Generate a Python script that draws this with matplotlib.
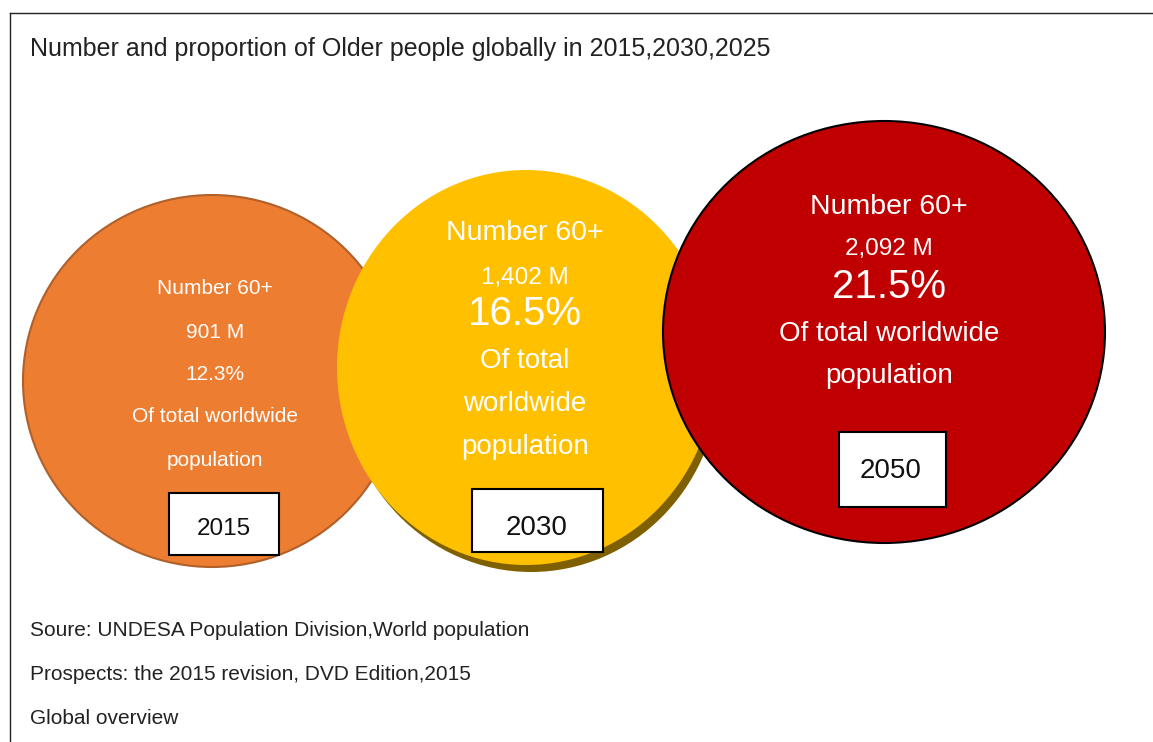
import matplotlib
matplotlib.use('Agg')
import matplotlib.pyplot as plt
from matplotlib.patches import Ellipse, Rectangle

plt.rcParams['font.family'] = ['Liberation Sans', 'DejaVu Sans']

# data
years = ['2015', '2030', '2050']
number_60 = ['901 M', '1,402 M', '2,092 M']
share = ['12.3%', '16.5%', '21.5%']

title = 'Number and proportion of Older people globally in 2015,2030,2025'
source_lines = [
    'Soure: UNDESA Population Division,World population',
    'Prospects: the 2015 revision, DVD Edition,2015',
    'Global overview',
]

# layout (pixels, y down)
centers = [(212, 381), (526, 367.5), (884, 332)]
sizes = [(378, 372), (378, 395), (442, 422)]
fills = ['#ED7D31', '#FFC000', '#C00000']
edges = ['#B0602A', 'none', '#000000']
text_x = [215, 525, 889]
boxes = [(169, 493, 110, 62), (472, 489, 131, 63), (839, 432, 107, 75)]
box_text_x = [224, 537, 891]
box_text_y = [529, 528, 471]
box_fs = [17.5, 20, 20]

fig = plt.figure(figsize=(11.53, 7.42), dpi=100)
ax = fig.add_axes([0, 0, 1, 1])
ax.set_xlim(0, 1153)
ax.set_ylim(742, 0)
ax.axis('off')

# frame lines
ax.plot([10, 1153], [13, 13], color='#222222', lw=1.0)
ax.plot([10, 10], [13, 742], color='#222222', lw=1.0)

ax.text(30, 49, title, fontsize=18, color='#222222', va='center', ha='left')

# shadow under the 2030 circle
ax.add_patch(Ellipse((centers[1][0] + 5, centers[1][1] + 7), sizes[1][0], sizes[1][1],
                     facecolor='#7F6000', edgecolor='none', zorder=2.5))

for i in range(3):
    ax.add_patch(Ellipse(centers[i], sizes[i][0], sizes[i][1], facecolor=fills[i],
                         edgecolor=edges[i], lw=1.5, zorder=2 + i))

# 2015 text
rows = [('Number 60+', 289), (number_60[0], 332), (share[0], 375),
        ('Of total worldwide', 417), ('population', 460)]
for s, y in rows:
    ax.text(text_x[0], y, s, fontsize=15, color='white', ha='center', va='center', zorder=2.1)

# 2030 text
rows = [('Number 60+', 233, 20.5), (number_60[1], 278, 17.5), (share[1], 314, 29),
        ('Of total', 361, 20), ('worldwide', 404, 20), ('population', 447, 20)]
for s, y, fs in rows:
    ax.text(text_x[1], y, s, fontsize=fs, color='white', ha='center', va='center', zorder=3.1)

# 2050 text
rows = [('Number 60+', 207, 20.5), (number_60[2], 249, 17.5), (share[2], 287, 29),
        ('Of total worldwide', 334, 20), ('population', 376, 20)]
for s, y, fs in rows:
    ax.text(text_x[2], y, s, fontsize=fs, color='white', ha='center', va='center', zorder=4.1)

# year boxes
for i in range(3):
    bx, by, bw, bh = boxes[i]
    ax.add_patch(Rectangle((bx, by), bw, bh, facecolor='white',
                           edgecolor='black', lw=1.5, zorder=5))
    ax.text(box_text_x[i], box_text_y[i], years[i], fontsize=box_fs[i],
            color='#111111', ha='center', va='center', zorder=6)

for i, line in enumerate(source_lines):
    ax.text(30, 630 + 44 * i, line, fontsize=15, color='#222222', ha='left', va='center')

fig.savefig('out.png', dpi=100)
